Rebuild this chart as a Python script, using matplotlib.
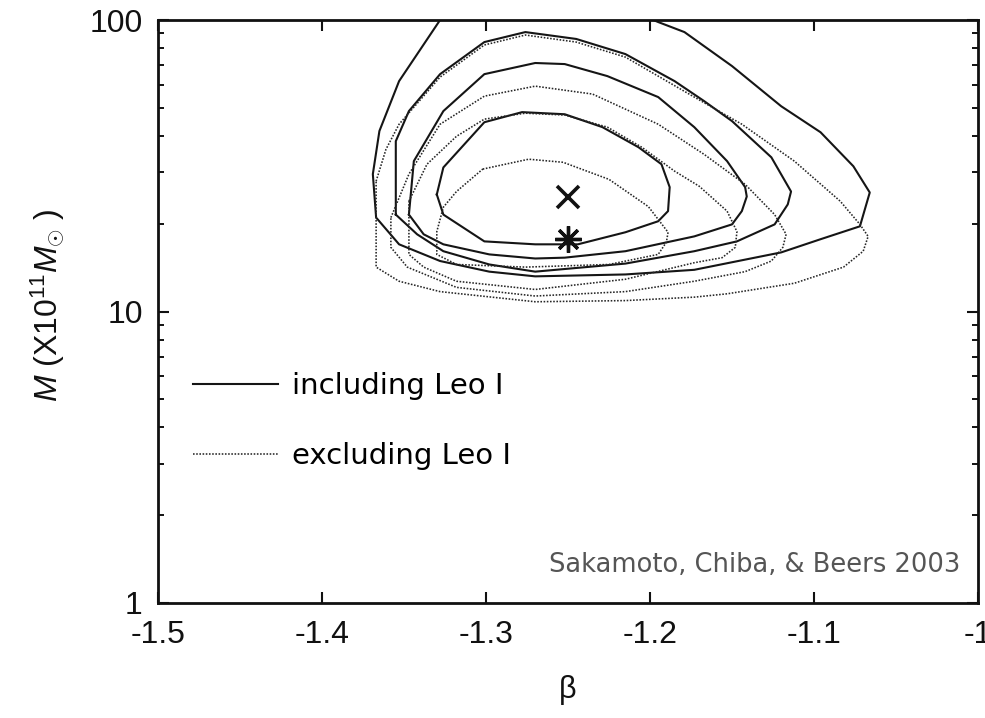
import numpy as np
import matplotlib
matplotlib.use("Agg")
import matplotlib.pyplot as plt
from matplotlib.ticker import FixedLocator, LogLocator, NullFormatter

# ---------------- data ----------------
# Solid contours: including Leo I
s1_beta = [-1.330, -1.326, -1.301, -1.278, -1.252, -1.229, -1.207, -1.193, -1.188, -1.189,
           -1.195, -1.215, -1.244, -1.270, -1.301, -1.326, -1.330]
s1_mass = [25.2, 31.2, 44.6, 48.3, 47.5, 42.9, 36.6, 32.0, 26.7, 22.1,
           20.4, 18.7, 17.0, 17.0, 17.4, 21.5, 25.2]

s2_beta = [-1.347, -1.344, -1.326, -1.301, -1.270, -1.252, -1.226, -1.195, -1.173, -1.153,
           -1.142, -1.141, -1.144, -1.150, -1.173, -1.215, -1.252, -1.270, -1.298, -1.326,
           -1.338, -1.347]
s2_mass = [21.5, 32.8, 48.7, 65.2, 71.2, 70.6, 64.2, 54.4, 42.9, 32.8,
           26.7, 24.8, 22.1, 19.9, 18.1, 16.1, 15.3, 15.2, 15.7, 17.0,
           18.4, 21.5]

s3_beta = [-1.355, -1.355, -1.347, -1.328, -1.301, -1.276, -1.245, -1.215, -1.185, -1.167,
           -1.150, -1.126, -1.114, -1.116, -1.124, -1.147, -1.173, -1.215, -1.270, -1.298,
           -1.326, -1.342, -1.355]
s3_mass = [21.5, 38.4, 48.7, 65.2, 84.0, 90.9, 86.1, 76.4, 61.7, 52.7,
           45.0, 33.8, 25.8, 23.3, 19.9, 17.4, 16.1, 14.6, 13.7, 14.5,
           16.1, 18.4, 21.5]

s4_beta = [-1.328, -1.353, -1.365, -1.369, -1.367, -1.353, -1.328, -1.298, -1.270, -1.215,
           -1.173, -1.120, -1.096, -1.072, -1.066, -1.076, -1.096, -1.120, -1.150, -1.179,
           -1.195, -1.198]
s4_mass = [100.0, 61.7, 41.6, 29.6, 21.0, 17.0, 14.9, 13.7, 13.2, 13.4,
           13.9, 15.95, 17.7, 19.6, 25.6, 31.5, 41.2, 50.6, 69.5, 90.9,
           98.4, 100.0]

# Dotted contours: excluding Leo I
d1_beta = [-1.302, -1.274, -1.253, -1.225, -1.201, -1.189, -1.190, -1.195, -1.225, -1.276,
           -1.318, -1.330, -1.330, -1.326, -1.318, -1.302]
d1_mass = [30.8, 33.3, 32.5, 28.4, 22.9, 18.7, 17.3, 15.7, 14.5, 14.2,
           14.5, 15.7, 18.8, 22.8, 25.8, 30.8]

d2_beta = [-1.347, -1.336, -1.318, -1.301, -1.276, -1.252, -1.226, -1.205, -1.185, -1.170,
           -1.153, -1.147, -1.148, -1.156, -1.173, -1.215, -1.270, -1.318, -1.338, -1.347,
           -1.347]
d2_mass = [23.9, 32.0, 39.9, 45.7, 47.9, 47.2, 42.9, 36.6, 30.3, 26.9,
           22.1, 18.8, 16.6, 15.3, 14.7, 12.9, 11.9, 12.7, 14.2, 15.7,
           23.9]

d3_beta = [-1.358, -1.347, -1.328, -1.301, -1.270, -1.235, -1.195, -1.167, -1.142, -1.124,
           -1.117, -1.119, -1.126, -1.142, -1.173, -1.215, -1.270, -1.318, -1.348, -1.358,
           -1.358]
d3_mass = [21.0, 29.6, 43.9, 54.8, 59.3, 55.7, 43.9, 34.6, 27.3, 21.5,
           18.4, 16.6, 14.9, 13.7, 12.7, 11.7, 11.3, 12.1, 14.2, 16.6,
           21.0]

d4_beta = [-1.367, -1.361, -1.353, -1.328, -1.301, -1.276, -1.245, -1.215, -1.173, -1.144,
           -1.112, -1.084, -1.072, -1.067, -1.070, -1.082, -1.112, -1.153, -1.173, -1.215,
           -1.270, -1.328, -1.353, -1.367, -1.367]
d4_mass = [28.0, 36.0, 43.9, 63.7, 82.1, 88.8, 84.0, 74.6, 54.4, 43.9,
           32.8, 23.9, 19.9, 18.1, 16.1, 14.2, 12.5, 11.5, 11.2, 10.9,
           10.8, 11.7, 12.7, 14.2, 28.0]

# best-fit points
best_incl = (-1.25, 17.7)   # asterisk
best_excl = (-1.25, 24.8)   # cross

x_ticks = [-1.5, -1.4, -1.3, -1.2, -1.1, -1.0]
x_tick_labels = ["-1.5", "-1.4", "-1.3", "-1.2", "-1.1", "-1"]
y_ticks = [1, 10, 100]
y_tick_labels = ["1", "10", "100"]

legend_labels = ["including Leo I", "excluding Leo I"]
credit = "Sakamoto, Chiba, & Beers 2003"

# ---------------- figure ----------------
plt.rcParams['mathtext.fontset'] = 'custom'
plt.rcParams['mathtext.rm'] = 'Liberation Sans'
plt.rcParams['mathtext.it'] = 'Liberation Sans:italic'

fig = plt.figure(figsize=(9.85, 7.18), dpi=100)
ax = fig.add_axes([158/985, 1-603/718, 820/985, 583/718])

solid_kw = dict(color='#151515', lw=1.5, solid_joinstyle='round')
dot_kw = dict(color='#262626', lw=1.15, linestyle=(0, (1.0, 1.0)))

solid_sets = [(s1_beta, s1_mass), (s2_beta, s2_mass), (s3_beta, s3_mass), (s4_beta, s4_mass)]
dot_sets = [(d1_beta, d1_mass), (d2_beta, d2_mass), (d3_beta, d3_mass), (d4_beta, d4_mass)]

for i, (b, m) in enumerate(solid_sets):
    ax.plot(b, m, label=legend_labels[0] if i == 0 else None, **solid_kw)
for i, (b, m) in enumerate(dot_sets):
    ax.plot(b, m, label=legend_labels[1] if i == 0 else None, **dot_kw)

ax.plot([best_excl[0]], [best_excl[1]], marker='x', ms=16, mew=2.6, color='#111111', ls='none')
ax.plot([best_incl[0]], [best_incl[1]], marker=(8, 2, 0), ms=19, mew=2.4, color='#111111', ls='none')

ax.set_yscale('log')
ax.set_xlim(-1.5, -1.0)
ax.set_ylim(1, 100)

ax.xaxis.set_major_locator(FixedLocator(x_ticks))
ax.set_xticklabels(x_tick_labels)
ax.yaxis.set_major_locator(FixedLocator(y_ticks))
ax.set_yticklabels(y_tick_labels)
ax.yaxis.set_minor_locator(LogLocator(base=10, subs=np.arange(2, 10)))
ax.yaxis.set_minor_formatter(NullFormatter())

tick_font = 'Liberation Sans'
ax.tick_params(which='major', direction='in', length=8, width=1.5, top=True, right=True,
               labelsize=23, colors='#111111')
ax.tick_params(which='minor', direction='in', length=4.5, width=1.3, top=True, right=True)
ax.tick_params(axis='x', which='major', pad=12)
ax.tick_params(axis='y', which='major', pad=11)
for lab in ax.get_xticklabels() + ax.get_yticklabels():
    lab.set_fontfamily(tick_font)
for sp in ax.spines.values():
    sp.set_linewidth(2.0)
    sp.set_color('#111111')

ax.set_xlabel('β', fontsize=22, family='Liberation Sans', labelpad=18, color='#111111')
fig.text(48/985, 1-305/718, r'$M$ (X10$^{11}$$M_{\odot}$ )', rotation=90,
         ha='center', va='center', fontsize=23, color='#111111', family='Liberation Sans')

leg = ax.legend(loc='center left', bbox_to_anchor=((193-158)/820, (603-421)/583),
                frameon=False, prop={'family': 'DejaVu Sans', 'size': 21},
                handlelength=2.9, handletextpad=0.5, labelspacing=1.45,
                borderpad=0, borderaxespad=0)

ax.text(0.978, (603-565)/583, credit, transform=ax.transAxes, ha='right', va='center',
        fontsize=18.5, family='DejaVu Sans', color='#555555')

fig.savefig('out.png', dpi=100)
